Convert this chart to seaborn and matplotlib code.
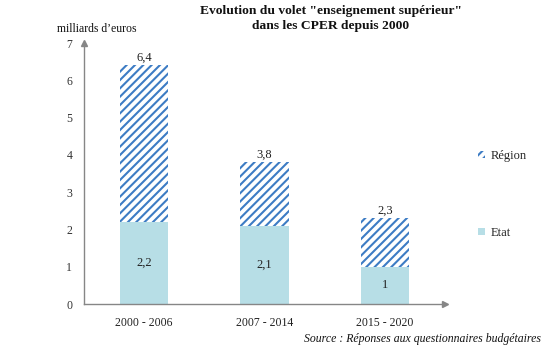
import matplotlib
matplotlib.use("Agg")
import matplotlib.pyplot as plt
from matplotlib.patches import Patch
import seaborn as sns
import pandas as pd

# Data (milliards d'euros)
periods = ["2000 - 2006", "2007 - 2014", "2015 - 2020"]
etat = [2.2, 2.1, 1.0]
region = [4.2, 1.7, 1.3]
y_ticks = [0, 1, 2, 3, 4, 5, 6, 7]

totals = [round(e + r, 1) for e, r in zip(etat, region)]
df = pd.DataFrame({"periode": periods, "etat": etat, "total": totals})

sns.set_style("white")
plt.rcParams["font.family"] = ["Liberation Serif", "DejaVu Serif"]
plt.rcParams["hatch.linewidth"] = 1.5

BLUE = "#3d7cc4"
ETAT = "#b7dee6"
AXIS = "#868686"

def fr(v):
    s = f"{v:g}"
    return s.replace(".", ",")

fig = plt.figure(figsize=(5.55, 3.48), dpi=100)
ax = fig.add_axes([0.1514, 0.1264, 0.6504, 0.75])

# Total bar drawn hatched (Région part), Etat drawn over its lower part
sns.barplot(data=df, x="periode", y="total", ax=ax, color="white",
            width=0.4, hatch="////", edgecolor=BLUE, linewidth=0,
            errorbar=None)
sns.barplot(data=df, x="periode", y="etat", ax=ax, color=ETAT,
            width=0.4, linewidth=0, saturation=1, errorbar=None)

ax.set_xlim(-0.5, 2.5)
ax.set_ylim(0, 7)
ax.set_yticks(y_ticks)
ax.set_xlabel("")
ax.set_ylabel("")

for s in ["top", "right"]:
    ax.spines[s].set_visible(False)
for s in ["left", "bottom"]:
    ax.spines[s].set_color(AXIS)
    ax.spines[s].set_linewidth(1.0)

ax.tick_params(axis="y", which="major", length=2.5, width=1, color=AXIS,
               direction="out", pad=6, labelsize=8.5, labelcolor="#333333")
ax.set_xticks([0, 1, 2])
ax.set_xticks([-0.5, 0.5, 1.5, 2.5], minor=True)
ax.tick_params(axis="x", which="major", length=0, pad=9, labelsize=8.5,
               labelcolor="#222222")
ax.tick_params(axis="x", which="minor", length=3, width=1, color=AXIS,
               direction="out")

# Axis arrows
ax.plot(0, 1, marker="^", ms=5, color=AXIS, transform=ax.transAxes,
        clip_on=False, zorder=5)
ax.plot(1, 0, marker=">", ms=5, color=AXIS, transform=ax.transAxes,
        clip_on=False, zorder=5)

# Value labels
for i, (e, t) in enumerate(zip(etat, totals)):
    ax.text(i, t + 0.05, fr(t), ha="center", va="bottom", fontsize=9,
            color="#222222")
    ax.text(i, e / 2, fr(e), ha="center", va="center", fontsize=9,
            color="#222222")

fig.text(0.596, 0.985, "Evolution du volet \"enseignement supérieur\"\ndans les CPER depuis 2000",
         ha="center", va="top", fontsize=9.7, fontweight="bold",
         linespacing=1.3, color="#111111")
fig.text(0.175, 0.918, "milliards d\u2019euros", ha="center", va="center",
         fontsize=8.5, color="#111111")
fig.text(0.975, 0.008, "Source : Réponses aux questionnaires budgétaires",
         ha="right", va="bottom", fontsize=8.5, style="italic",
         color="#111111")

handles = [Patch(facecolor="white", hatch="////", edgecolor=BLUE, linewidth=0),
           Patch(facecolor=ETAT, linewidth=0)]
ax.legend(handles, ["Région", "Etat"], loc="center left",
          bbox_to_anchor=(1.06, 0.42), frameon=False, fontsize=9,
          handlelength=0.6, handleheight=0.6, handletextpad=0.4,
          labelspacing=5.2)

fig.savefig("out.png", dpi=100)
